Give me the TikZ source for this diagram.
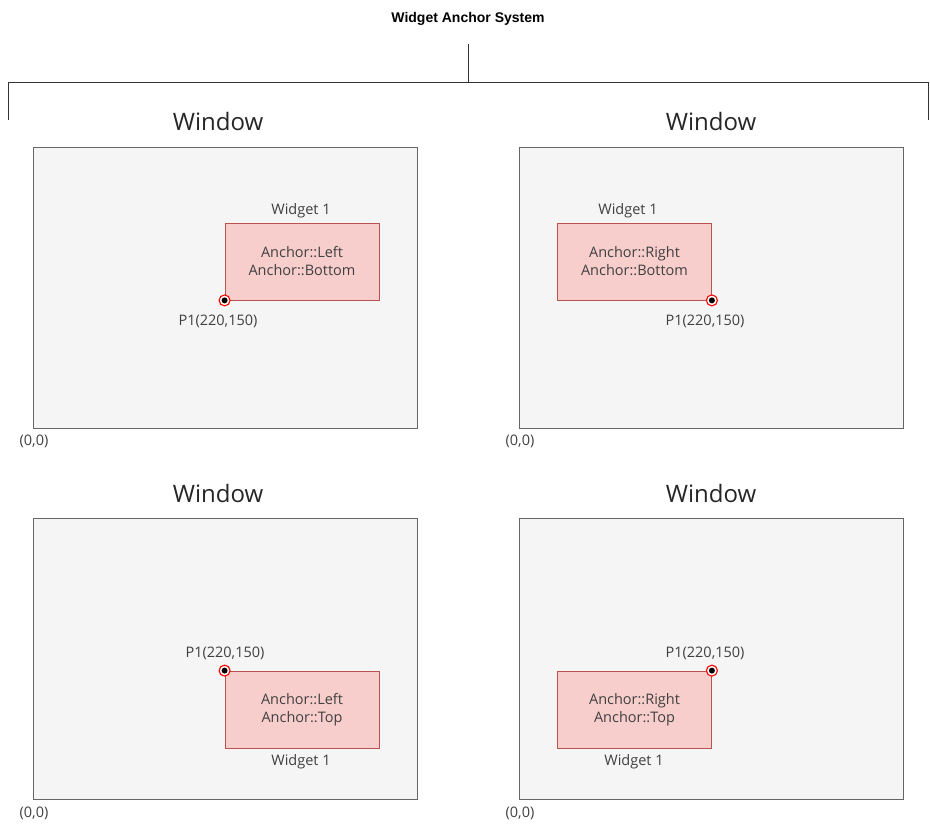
\documentclass[tikz,border=0pt]{standalone}
\usepackage{fontspec}
\setmainfont{Open Sans}
\newfontfamily\titlefont{Liberation Sans}
\definecolor{widfill}{HTML}{F8CECC}
\definecolor{widline}{HTML}{B85450}
\definecolor{winfill}{HTML}{F5F5F5}
\definecolor{winline}{HTML}{666666}
\begin{document}
\begin{tikzpicture}[x=1pt, y=-1pt,
  win/.style={draw=winline, fill=winfill, line width=0.8pt},
  wid/.style={draw=widline, fill=widfill, line width=0.8pt, minimum width=154pt, minimum height=77pt, inner sep=0pt, align=center, font=\fontsize{14.5}{18}\selectfont, text=black!75},
  lbl/.style={font=\fontsize{14.5}{17}\selectfont, text=black!75, inner sep=0pt},
  wtitle/.style={font=\fontsize{24}{28}\selectfont, text=black!85, inner sep=0pt},
  pt/.style={circle, draw=red, line width=1.1pt, fill=white, minimum size=11pt, inner sep=0pt, path picture={\fill[black] (path picture bounding box.center) circle (3pt);}}]
\useasboundingbox (0,0) rectangle (930,826);
\node[font=\titlefont\bfseries\fontsize{14}{16}\selectfont] (title) at (468,19){Widget Anchor System};
\coordinate (hub) at (468,82);
\coordinate (legl) at (8,82);
\coordinate (legr) at (928,82);
\coordinate (endl) at (8,120);
\coordinate (endr) at (928,120);
\draw[black!80] (468,44) -- (hub);
\draw[black!80] (endl) -- (legl) -- (legr) -- (endr);
% top left
\draw[win] (33,147) rectangle (417,428);
\node[wtitle] (win1) at (218,122){Window};
\node[lbl] (org1) at (34,441){(0,0)};
\node[wid] (wid1) at (302,261.5){Anchor::Left\\Anchor::Bottom};
\node[lbl] (name1) at (301,211){Widget 1};
\node[pt] (p1) at (wid1.south west){};
\node[lbl] (plab1) at (218,321){P1(220,150)};
% top right
\draw[win] (519,147) rectangle (903,428);
\node[wtitle] (win2) at (711,122){Window};
\node[lbl] (org2) at (520,441){(0,0)};
\node[wid] (wid2) at (634.5,261.5){Anchor::Right\\Anchor::Bottom};
\node[lbl] (name2) at (628,211){Widget 1};
\node[pt] (p2) at (wid2.south east){};
\node[lbl] (plab2) at (705,321){P1(220,150)};
% bottom left
\draw[win] (33,518) rectangle (417,799);
\node[wtitle] (win3) at (218,493){Window};
\node[lbl] (org3) at (34,813){(0,0)};
\node[wid] (wid3) at (302,709.5){Anchor::Left\\Anchor::Top};
\node[lbl] (name3) at (301,762){Widget 1};
\node[pt] (p3) at (wid3.north west){};
\node[lbl] (plab3) at (225,653){P1(220,150)};
% bottom right
\draw[win] (519,518) rectangle (903,799);
\node[wtitle] (win4) at (711,493){Window};
\node[lbl] (org4) at (520,813){(0,0)};
\node[wid] (wid4) at (634.5,709.5){Anchor::Right\\Anchor::Top};
\node[lbl] (name4) at (634,762){Widget 1};
\node[pt] (p4) at (wid4.north east){};
\node[lbl] (plab4) at (705,653){P1(220,150)};
\end{tikzpicture}
\end{document}
